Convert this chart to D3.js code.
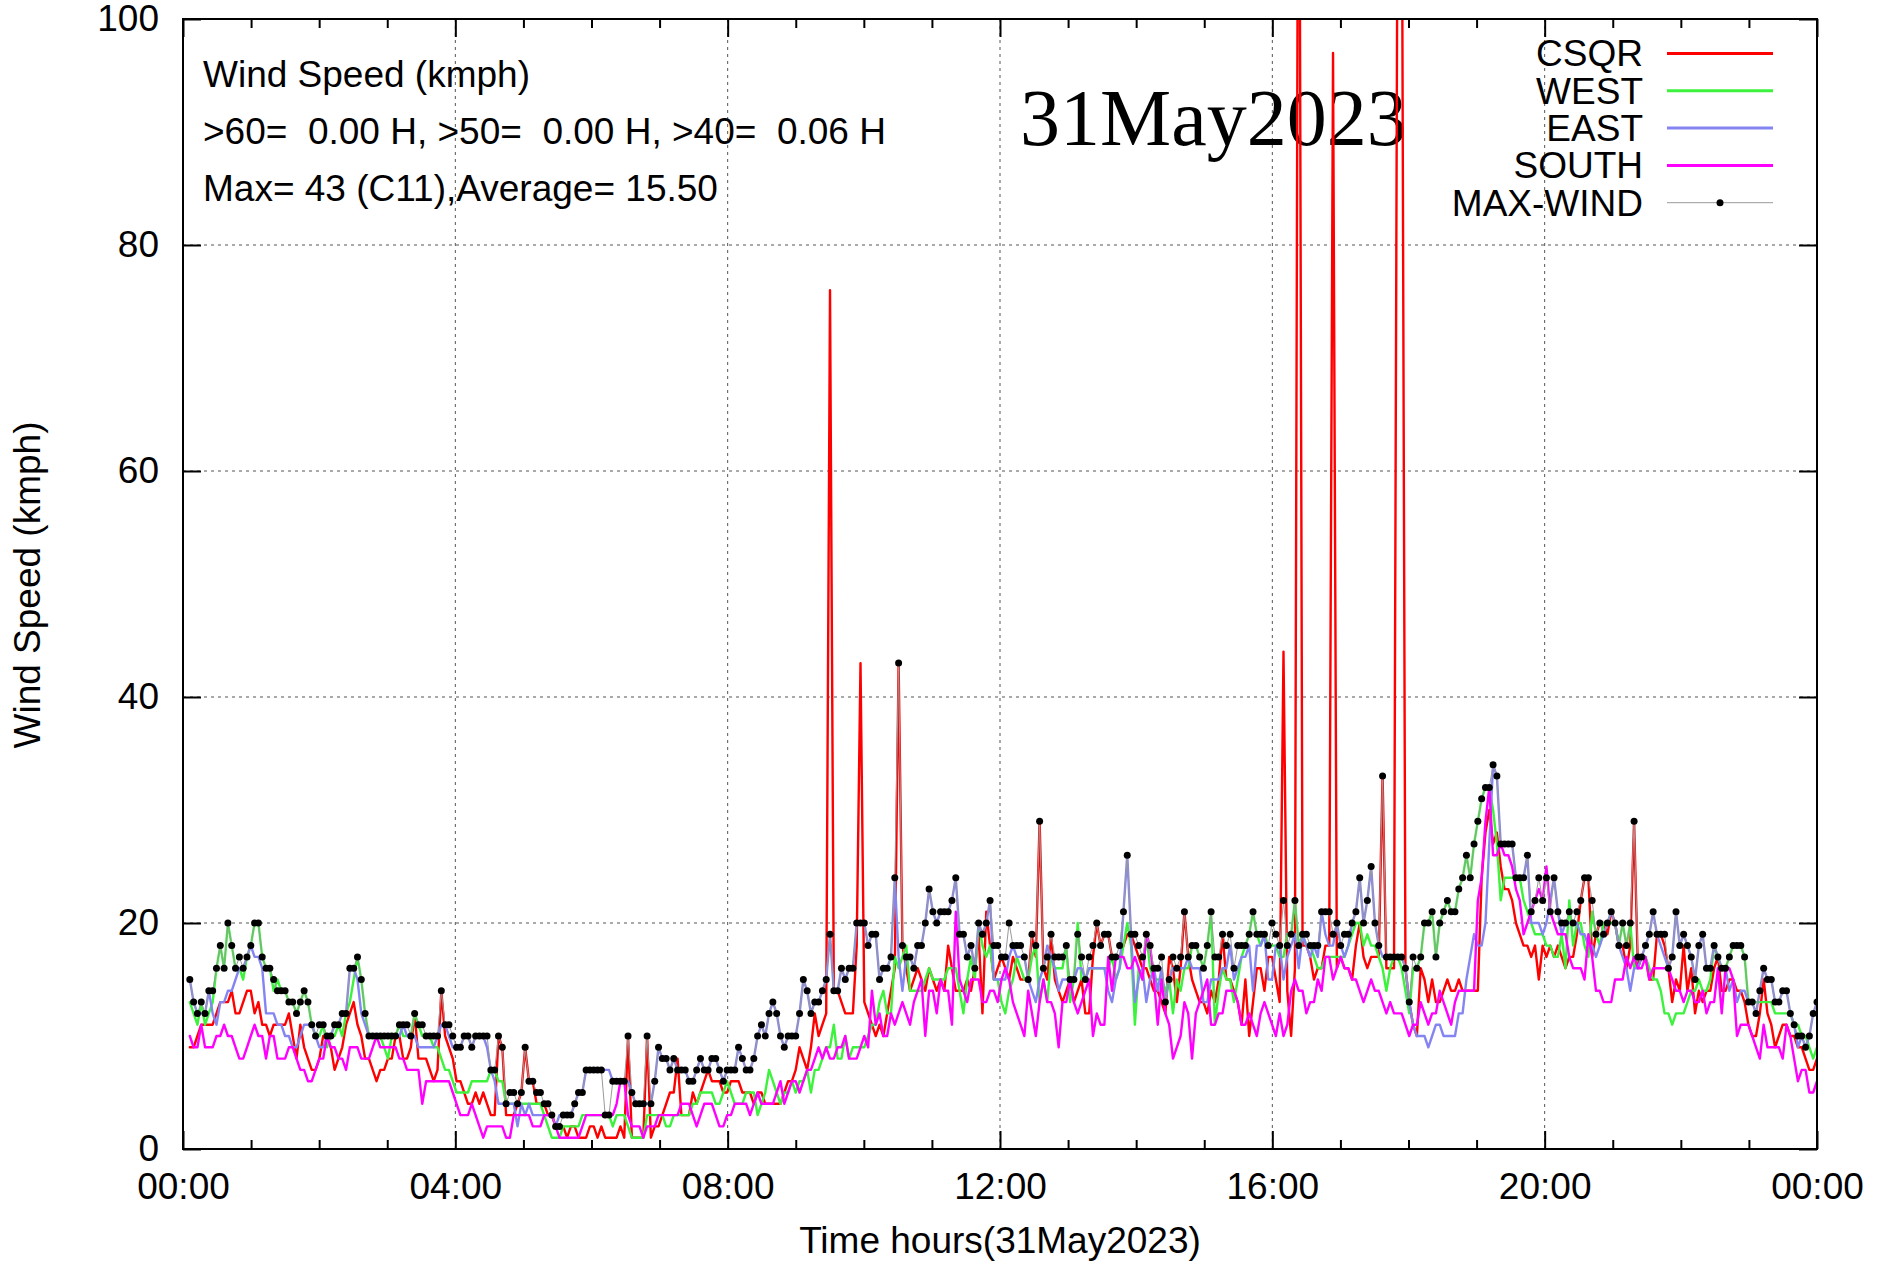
<!DOCTYPE html>
<html><head><meta charset="utf-8">
<script src="https://cdn.jsdelivr.net/npm/d3@7"></script>
<style>
html,body{margin:0;padding:0;background:#fff;}
svg{display:block;}
</style></head><body>
<svg id="chart" width="1886" height="1264"></svg>
<script>
// ---- data (kmph), sampled every ~3.3 min from 00:06 to 24:00 ----
const csqr = [
9,9,10,11,11,11,11,12,13,13,13,14,12,12,13,14,14,12,13,11,11,10,11,11,11,11,12,10,8,11,9,8,7,7,8,10,10,9,7,8,9,11,12,13,11,10,8,8,7,6,7,7,8,
8,10,10,8,8,9,12,8,8,8,7,6,7,14,10,9,8,6,6,5,4,4,5,4,5,4,3,3,10,9,3,3,3,4,5,9,6,6,4,4,4,3,3,2,2,2,1,2,2,1,1,1,2,2,1,
2,1,1,1,1,2,1,10,1,1,1,1,10,1,2,2,3,4,5,5,8,3,3,3,5,4,5,6,7,6,6,6,5,5,6,6,6,5,5,5,4,5,5,4,4,4,4,4,5,6,6,7,9,8,
7,9,12,10,11,12,76,14,14,13,12,12,12,18,43,13,12,11,10,11,10,12,14,16,43,18,16,14,15,16,15,14,16,15,14,15,14,18,16,14,14,14,15,14,16,19,12,21,18,15,16,17,16,15,
17,16,15,15,15,19,17,29,16,15,19,15,14,13,14,15,13,14,15,12,12,17,20,18,19,19,17,17,17,18,19,19,18,17,16,16,15,14,14,13,12,17,16,13,16,21,17,15,14,13,13,12,14,
13,15,19,15,15,14,13,11,15,10,13,16,16,14,17,17,15,13,44,14,10,16,140,18,18,17,15,16,16,18,18,97,16,17,16,16,15,18,20,17,16,17,17,17,33,16,16,16,120,120,16,13,11,
10,16,15,13,15,13,13,14,15,14,14,15,14,14,14,14,14,24,28,30,27,28,25,23,23,22,20,19,18,18,17,18,15,18,17,18,17,18,17,16,17,17,19,22,24,24,17,19,20,20,19,21,20,18,
18,16,18,29,16,17,17,15,15,19,19,18,16,13,15,14,18,14,16,12,14,13,14,14,16,17,14,14,15,15,14,14,13,11,10,10,12,15,12,11,9,10,11,11,10,10,9,9,8,7,7,8
];
const west = [
13,12,11,13,11,12,13,16,18,16,20,18,16,16,15,17,18,20,20,17,16,16,14,15,14,14,13,13,12,13,14,13,11,10,10,11,9,10,10,11,10,12,13,15,17,15,12,10,10,10,10,9,8,
10,10,11,10,10,10,12,11,10,10,10,9,9,8,7,7,6,5,5,5,5,6,6,6,6,6,7,7,6,6,4,4,4,4,4,4,4,4,4,4,3,2,1,1,1,2,2,2,2,2,3,3,3,3,3,
3,3,3,2,3,3,3,2,1,1,1,1,3,3,3,3,3,2,2,3,3,3,3,3,4,4,5,5,5,5,4,4,5,6,5,4,4,4,5,5,5,3,4,5,7,6,5,4,5,5,6,5,6,6,
7,5,7,7,8,9,9,11,8,8,10,8,9,9,9,9,10,11,11,13,14,12,12,17,16,17,18,14,14,14,14,15,16,15,15,15,15,16,16,16,14,12,15,17,15,20,18,17,18,15,15,13,12,14,
15,17,16,15,15,17,18,13,15,13,17,16,16,16,18,13,15,20,15,15,16,16,16,16,16,16,17,15,16,18,20,18,11,16,15,19,16,15,15,15,14,15,12,15,14,16,16,18,18,17,16,18,21,
11,14,16,15,15,13,15,17,18,19,21,19,18,19,18,18,18,17,17,19,19,22,18,19,18,18,17,16,16,17,17,17,17,17,17,18,19,20,20,18,19,18,18,17,16,14,16,17,17,16,14,12,16,
16,17,20,20,21,17,20,21,22,21,21,23,24,26,24,27,29,31,32,32,30,27,22,24,24,24,24,24,22,21,20,19,19,19,18,18,17,17,19,16,22,18,20,20,18,17,21,19,18,20,20,20,20,18,
20,18,20,16,17,17,17,16,15,15,14,12,12,11,12,12,12,13,14,14,15,14,14,15,18,17,16,16,17,18,18,18,17,13,13,13,13,13,13,13,12,12,12,12,12,11,11,10,10,9,8,9
];
const east = [
15,13,12,12,12,14,12,11,13,13,14,14,15,16,16,17,18,17,17,16,12,12,12,11,11,10,10,9,9,10,11,11,11,10,9,9,10,10,11,11,12,12,16,16,15,12,11,10,10,10,10,10,10,
10,10,10,11,10,10,10,9,9,9,9,9,10,11,11,10,9,9,9,10,10,9,10,10,10,9,7,6,4,4,4,4,4,2,4,3,4,3,3,3,3,3,3,2,3,3,3,3,4,5,5,7,7,7,7,
7,7,7,6,6,6,6,6,5,4,4,4,4,4,6,9,8,8,7,8,7,7,7,6,6,7,8,7,7,8,8,7,6,7,7,7,9,8,7,7,8,10,11,10,12,13,12,10,9,10,10,10,12,15,
14,12,13,13,14,15,19,14,14,16,15,16,16,20,20,20,18,19,19,15,16,16,17,24,17,14,17,17,16,18,18,20,23,21,20,21,21,21,22,24,19,19,17,18,16,20,19,20,22,15,15,15,15,17,
18,17,17,17,15,14,13,15,16,18,17,16,14,15,15,15,15,16,16,15,16,16,16,16,16,14,13,15,16,21,26,19,13,15,16,13,15,16,14,16,13,15,16,16,16,16,17,16,16,16,13,13,15,
15,15,16,16,18,15,16,17,17,18,14,18,18,19,15,15,18,18,15,17,18,19,16,19,18,17,18,17,21,19,18,18,20,18,17,18,20,21,24,20,22,25,20,18,17,17,17,17,17,17,16,13,11,
10,10,10,9,10,11,11,10,10,10,10,12,12,15,17,19,18,18,20,27,34,33,27,27,27,27,24,24,24,26,20,20,20,19,20,22,24,21,19,20,20,20,20,19,19,18,18,17,18,19,20,21,20,18,
17,16,14,16,16,17,18,19,21,19,18,17,16,17,21,18,19,18,17,15,18,19,16,16,18,17,16,16,14,15,13,14,14,13,13,12,14,16,15,15,13,13,14,14,12,11,9,10,9,10,12,13
];
const south = [
10,9,9,11,9,9,9,10,10,11,10,10,9,8,8,9,10,11,10,10,8,10,10,8,8,8,9,9,8,7,7,6,6,7,8,8,10,9,9,8,8,7,9,9,9,8,8,8,9,10,9,9,9,
9,9,8,8,7,7,7,7,4,6,6,6,6,6,6,6,5,4,3,3,3,4,3,2,1,2,2,2,2,2,1,1,3,3,3,3,3,2,2,2,3,3,3,2,1,1,1,1,1,1,2,3,3,3,3,
3,3,3,3,4,6,6,3,2,2,2,1,2,2,2,3,3,3,3,3,3,4,4,4,3,2,3,4,4,4,3,2,2,3,3,4,4,4,4,3,4,5,4,4,4,4,5,6,4,5,6,6,5,6,
7,7,8,9,8,9,8,8,9,9,10,8,8,8,9,10,9,14,11,12,10,10,12,11,12,13,12,11,13,14,15,10,14,14,12,15,14,14,11,21,15,14,13,15,15,15,13,13,14,14,13,15,16,15,
13,12,11,10,14,12,10,13,15,13,13,12,9,13,13,15,13,12,13,14,15,10,12,11,11,17,14,17,17,17,16,16,17,16,15,19,18,15,11,15,12,11,8,9,10,13,12,8,12,13,14,15,11,
11,12,12,14,14,14,13,11,11,12,11,10,12,13,12,11,10,12,10,11,14,15,14,14,12,13,13,15,14,17,17,15,16,17,16,16,15,15,14,13,14,15,14,14,13,12,13,12,12,12,11,10,11,
11,13,12,11,12,12,14,13,12,11,13,14,14,14,14,14,22,24,29,32,26,26,27,26,26,25,23,22,19,20,21,22,23,22,25,21,20,19,19,19,17,16,16,16,15,19,17,14,14,13,13,13,15,15,
15,17,16,17,16,16,17,15,16,16,16,16,16,15,14,14,13,14,14,13,13,14,12,13,13,16,12,16,16,15,10,11,11,11,10,9,8,11,9,9,9,9,8,11,10,8,6,7,7,5,5,6
];
const maxWind = [
15,13,12,13,12,14,14,16,18,16,20,18,16,17,16,17,18,20,20,17,16,16,15,14,14,14,13,13,12,13,14,13,11,10,11,11,10,10,11,11,12,12,16,16,17,15,12,10,10,10,10,10,10,
10,10,11,11,11,10,12,11,11,10,10,10,10,14,11,11,10,9,9,10,10,9,10,10,10,10,7,7,10,9,4,5,5,4,5,9,6,6,5,5,4,4,3,2,2,3,3,3,4,5,5,7,7,7,7,
7,3,3,6,6,6,6,10,5,4,4,4,10,4,6,9,8,8,7,8,7,7,7,6,6,7,8,7,7,8,8,7,6,7,7,7,9,8,7,7,8,10,11,10,12,13,12,10,9,10,10,10,12,15,
14,12,13,13,14,15,19,14,14,16,15,16,16,20,20,20,18,19,19,15,16,16,17,24,43,18,17,17,16,18,18,20,23,21,20,21,21,21,22,24,19,19,17,18,16,20,19,20,22,18,18,17,17,20,
18,18,18,17,15,19,18,29,16,17,19,17,17,17,18,15,15,19,17,15,17,18,20,18,19,19,17,17,18,21,26,19,19,18,17,19,18,16,16,17,13,15,17,16,17,21,17,18,18,17,16,18,21,
17,17,19,18,19,16,18,18,18,19,21,19,19,19,18,20,19,18,22,18,19,22,18,19,19,18,18,18,21,21,21,19,20,18,19,19,20,21,24,20,22,25,20,18,33,17,17,17,17,17,16,13,17,
16,17,20,20,21,17,20,21,22,21,21,23,24,26,24,27,29,31,32,32,34,33,27,27,27,27,24,24,24,26,21,22,24,22,24,21,24,21,20,20,21,20,21,22,24,24,22,19,20,19,20,21,20,18,
20,18,20,29,17,17,18,19,21,19,19,19,16,17,21,18,19,18,17,15,18,19,16,16,18,17,16,16,17,18,18,18,17,13,13,12,14,16,15,15,13,13,14,14,12,11,10,10,9,10,12,13
];
const startHour = 0.1;   // first sample time (hours)
const endHour = 24.0;    // last sample time (hours)

const seriesNames = ["CSQR", "WEST", "EAST", "SOUTH", "MAX-WIND"];
const xMajorTicks = [0, 4, 8, 12, 16, 20, 24];
const xTickLabels = ["00:00", "04:00", "08:00", "12:00", "16:00", "20:00", "00:00"];
const xMinorTicks = [1,2,3,5,6,7,9,10,11,13,14,15,17,18,19,21,22,23];
const yTicks = [0, 20, 40, 60, 80, 100];
const infoLines = ["Wind Speed (kmph)", ">60=  0.00 H, >50=  0.00 H, >40=  0.06 H", "Max= 43 (C11),Average= 15.50"];
const dateTitle = "31May2023";
const xTitle = "Time hours(31May2023)";
const yTitle = "Wind Speed (kmph)";

// ---- drawing ----
const W = 1886, H = 1264;
const L = 183, R = 1817, T = 19, B = 1149;
const FONT = "'Liberation Sans', Arial, Helvetica, sans-serif";
const FS = 37;

const x = d3.scaleLinear().domain([0, 24]).range([L, R]);
const y = d3.scaleLinear().domain([0, 100]).range([B, T]);

const svg = d3.select("#chart");
svg.append("rect").attr("width", W).attr("height", H).attr("fill", "#fff");
svg.append("defs").append("clipPath").attr("id", "clip")
  .append("rect").attr("x", L).attr("y", T).attr("width", R - L).attr("height", B - T);

// grid
const grid = svg.append("g");
grid.selectAll("line.gx").data(xMajorTicks.filter(d => d > 0 && d < 24)).join("line")
  .attr("x1", d => x(d)).attr("x2", d => x(d)).attr("y1", T).attr("y2", B)
  .attr("stroke", "#555").attr("stroke-width", 1).attr("stroke-dasharray", "3,4");
grid.selectAll("line.gy").data(yTicks.filter(d => d > 0 && d < 100)).join("line")
  .attr("x1", L).attr("x2", R).attr("y1", d => y(d)).attr("y2", d => y(d))
  .attr("stroke", "#555").attr("stroke-width", 1).attr("stroke-dasharray", "3,4");

// axes
function styleAxis(g) {
  g.select(".domain").remove();
  g.attr("font-size", FS).attr("font-family", FONT);
  g.selectAll("line").attr("stroke", "#000").attr("stroke-width", 2);
  g.selectAll("text").attr("fill", "#000");
}
svg.append("g").attr("transform", `translate(0,${B})`)
  .call(d3.axisBottom(x).tickValues(xMajorTicks).tickFormat((d, i) => xTickLabels[i])
    .tickSizeInner(-18).tickSizeOuter(0).tickPadding(24)).call(styleAxis);
svg.append("g").attr("transform", `translate(0,${B})`)
  .call(d3.axisBottom(x).tickValues(xMinorTicks).tickFormat("").tickSizeInner(-9).tickSizeOuter(0)).call(styleAxis);
svg.append("g").attr("transform", `translate(0,${T})`)
  .call(d3.axisTop(x).tickValues(xMajorTicks).tickFormat("").tickSizeInner(-18).tickSizeOuter(0)).call(styleAxis);
svg.append("g").attr("transform", `translate(0,${T})`)
  .call(d3.axisTop(x).tickValues(xMinorTicks).tickFormat("").tickSizeInner(-9).tickSizeOuter(0)).call(styleAxis);
svg.append("g").attr("transform", `translate(${L},0)`)
  .call(d3.axisLeft(y).tickValues(yTicks).tickFormat(d3.format("d"))
    .tickSizeInner(-18).tickSizeOuter(0).tickPadding(24)).call(styleAxis);
svg.append("g").attr("transform", `translate(${R},0)`)
  .call(d3.axisRight(y).tickValues(yTicks).tickFormat("").tickSizeInner(-18).tickSizeOuter(0)).call(styleAxis);

// info text (top-left)
svg.append("g").selectAll("text").data(infoLines).join("text")
  .attr("x", 203).attr("y", (d, i) => 87 + i * 57)
  .attr("font-family", FONT).attr("font-size", FS).attr("fill", "#000")
  .style("white-space", "pre").attr("xml:space", "preserve")
  .text(d => d);

// big date title
svg.append("text").attr("x", 1020).attr("y", 145)
  .attr("font-family", "'Liberation Serif', 'Times New Roman', serif").attr("font-size", 80)
  .attr("fill", "#000").text(dateTitle);

// axis titles
svg.append("text").attr("x", (L + R) / 2).attr("y", 1253).attr("text-anchor", "middle")
  .attr("font-family", FONT).attr("font-size", FS).attr("fill", "#000").text(xTitle);
svg.append("text").attr("transform", "translate(40,585) rotate(-90)").attr("text-anchor", "middle")
  .attr("font-family", FONT).attr("font-size", FS).attr("fill", "#000").text(yTitle);

// series
function timesFor(arr) {
  const n = arr.length;
  return arr.map((v, i) => startHour + i * (endHour - startHour) / (n - 1));
}
const series = [
  { name: seriesNames[0], values: csqr, color: "#ff0000", width: 2.4 },
  { name: seriesNames[1], values: west, color: "#3cf23c", width: 2.4 },
  { name: seriesNames[2], values: east, color: "#8585f2", width: 2.4 },
  { name: seriesNames[3], values: south, color: "#ff00ff", width: 2.4 },
  { name: seriesNames[4], values: maxWind, color: "#9a9a9a", width: 1, dots: true }
];
const plot = svg.append("g").attr("clip-path", "url(#clip)");
series.forEach(s => {
  const ts = timesFor(s.values);
  const pts = s.values.map((v, i) => [ts[i], v]);
  const line = d3.line().x(d => x(d[0])).y(d => y(d[1]));
  plot.append("path").datum(pts).attr("d", line).attr("fill", "none")
    .attr("stroke", s.color).attr("stroke-width", s.width)
    .attr("stroke-linejoin", "round").attr("stroke-linecap", "round");
  if (s.dots) {
    plot.append("g").selectAll("circle").data(pts).join("circle")
      .attr("cx", d => x(d[0])).attr("cy", d => y(d[1])).attr("r", 3.5).attr("fill", "#000");
  }
});

// border
svg.append("rect").attr("x", L).attr("y", T).attr("width", R - L).attr("height", B - T)
  .attr("fill", "none").attr("stroke", "#000").attr("stroke-width", 2);

// legend
const leg = svg.append("g");
series.forEach((s, i) => {
  const cy = 53.5 + i * 37.3;
  leg.append("text").attr("x", 1643).attr("y", cy).attr("dy", "0.35em").attr("text-anchor", "end")
    .attr("font-family", FONT).attr("font-size", FS).attr("fill", "#000").text(s.name);
  leg.append("line").attr("x1", 1667).attr("x2", 1773).attr("y1", cy).attr("y2", cy)
    .attr("stroke", s.color).attr("stroke-width", s.width === 1 ? 1 : 3);
  if (s.dots) leg.append("circle").attr("cx", 1720).attr("cy", cy).attr("r", 3.5).attr("fill", "#000");
});
</script>
</body></html>
